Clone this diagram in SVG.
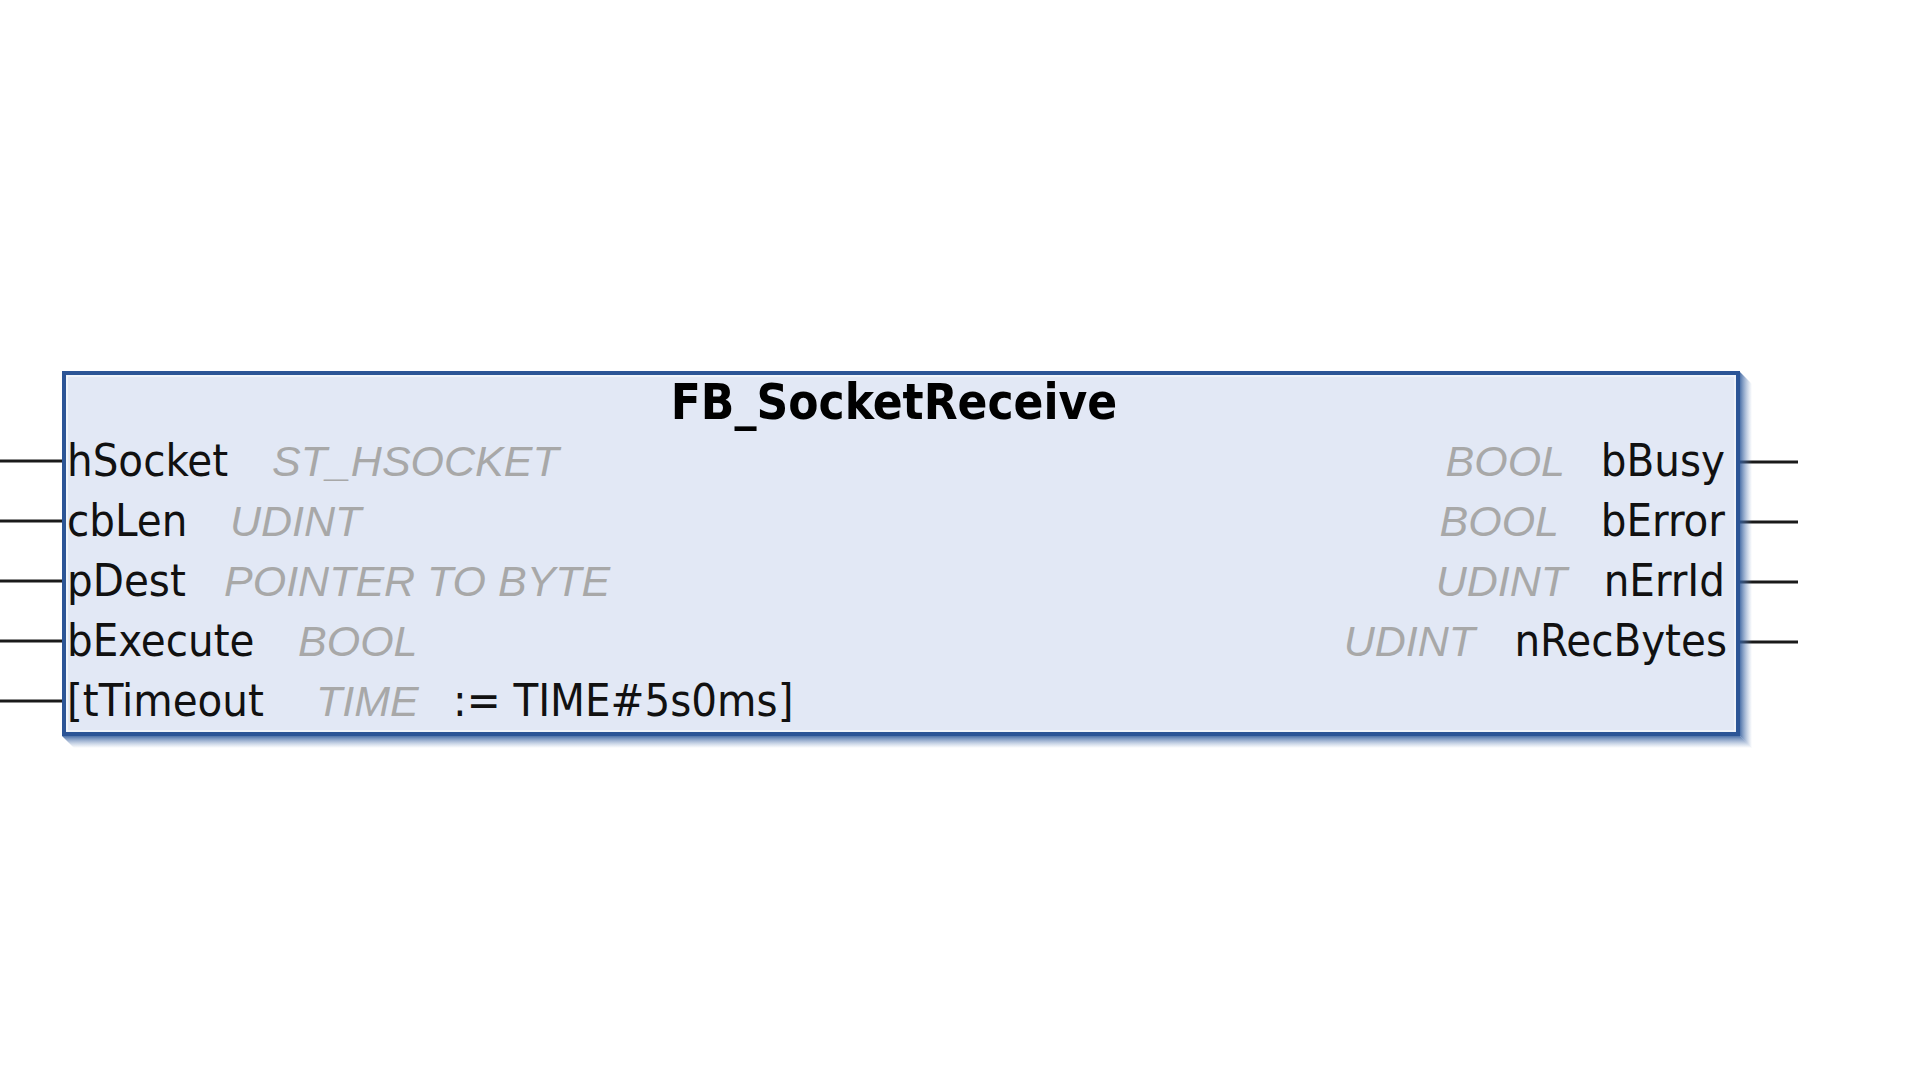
<svg xmlns="http://www.w3.org/2000/svg" width="1920" height="1080" viewBox="0 0 1920 1080">
<defs>
<linearGradient id="shR" x1="0" y1="0" x2="1" y2="0">
<stop offset="0" stop-color="#2f5a9a" stop-opacity="0.85"/>
<stop offset="1" stop-color="#6f8fc0" stop-opacity="0"/>
</linearGradient>
<linearGradient id="shB" x1="0" y1="0" x2="0" y2="1">
<stop offset="0" stop-color="#2f5a9a" stop-opacity="0.85"/>
<stop offset="1" stop-color="#6f8fc0" stop-opacity="0"/>
</linearGradient>
</defs>
<style>
.name{font-family:"DejaVu Sans Condensed","Liberation Sans",sans-serif;font-stretch:condensed;font-size:45px;fill:#111}
.type{font-family:"Liberation Sans",sans-serif;font-style:italic;font-size:43px;fill:#a8a8a8}
.title{font-family:"DejaVu Sans Condensed","Liberation Sans",sans-serif;font-stretch:condensed;font-weight:bold;font-size:49px;fill:#000}
.pin{stroke:#1a1a1a;stroke-width:3;fill:none}
</style>
<rect width="1920" height="1080" fill="#ffffff"/>
<g id="connectors">
<line class="pin" x1="0" y1="461" x2="62" y2="461"/>
<line class="pin" x1="0" y1="521" x2="62" y2="521"/>
<line class="pin" x1="0" y1="581" x2="62" y2="581"/>
<line class="pin" x1="0" y1="641" x2="62" y2="641"/>
<line class="pin" x1="0" y1="701" x2="62" y2="701"/>
<line class="pin" x1="1740" y1="462" x2="1798" y2="462"/>
<line class="pin" x1="1740" y1="522" x2="1798" y2="522"/>
<line class="pin" x1="1740" y1="582" x2="1798" y2="582"/>
<line class="pin" x1="1740" y1="642" x2="1798" y2="642"/>
</g>
<g id="fb_socketreceive">
<polygon points="1740,372 1752,384 1752,748 1740,736" fill="url(#shR)"/>
<polygon points="62,736 74,748 1752,748 1740,736" fill="url(#shB)"/>
<rect x="64" y="373" width="1674" height="361" fill="#e2e8f5" stroke="#2c5596" stroke-width="4"/>
<rect x="67" y="376" width="1668" height="355" fill="none" stroke="#f4f7fc" stroke-width="1.5"/>
<text class="title" x="894" y="419" text-anchor="middle">FB_SocketReceive</text>
<text class="name" x="67" y="476">hSocket</text>
<text class="type" x="272" y="476">ST_HSOCKET</text>
<text class="name" x="67" y="536">cbLen</text>
<text class="type" x="230" y="536">UDINT</text>
<text class="name" x="67" y="596">pDest</text>
<text class="type" x="224" y="596">POINTER TO BYTE</text>
<text class="name" x="67" y="656">bExecute</text>
<text class="type" x="298" y="656">BOOL</text>
<text class="name" x="67" y="716">[tTimeout</text>
<text class="type" x="316" y="716">TIME</text>
<text class="name" x="453" y="716">:= TIME#5s0ms]</text>
<text class="name" x="1725" y="476" text-anchor="end">bBusy</text>
<text class="type" x="1565" y="476" text-anchor="end">BOOL</text>
<text class="name" x="1725" y="536" text-anchor="end">bError</text>
<text class="type" x="1559" y="536" text-anchor="end">BOOL</text>
<text class="name" x="1725" y="596" text-anchor="end">nErrId</text>
<text class="type" x="1567" y="596" text-anchor="end">UDINT</text>
<text class="name" x="1727" y="656" text-anchor="end">nRecBytes</text>
<text class="type" x="1475" y="656" text-anchor="end">UDINT</text>
</g>
</svg>
